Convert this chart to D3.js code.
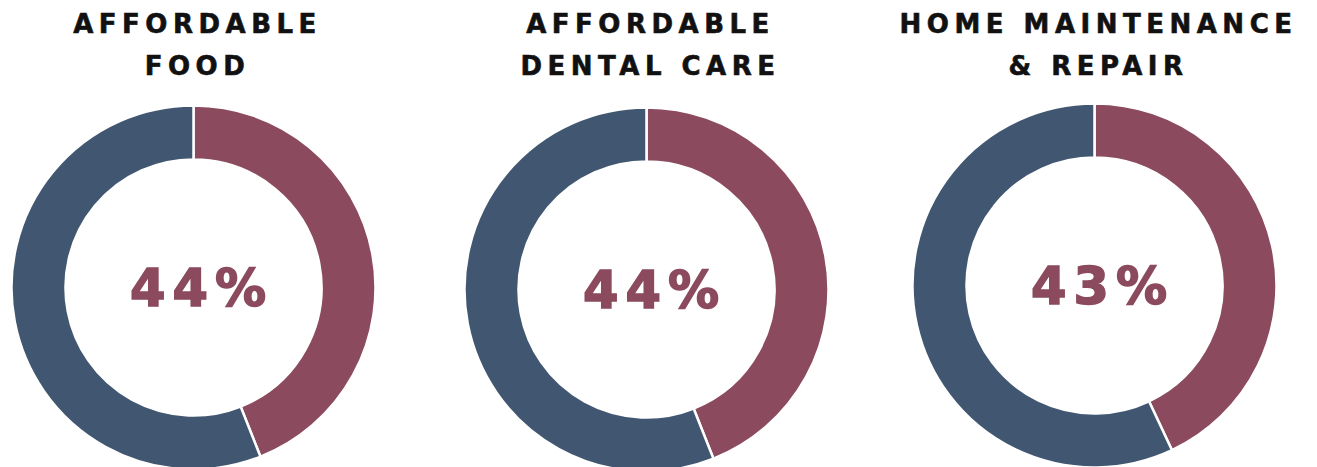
<!DOCTYPE html>
<html>
<head>
<meta charset="utf-8">
<script src="https://cdn.jsdelivr.net/npm/d3@7"></script>
<style>
  html, body { margin: 0; padding: 0; background: #ffffff; }
  svg { display: block; }
</style>
</head>
<body>
<svg id="chart" width="1317" height="467"></svg>
<script>
// Share of respondents naming each need
const titles = [
  ["AFFORDABLE", "FOOD"],
  ["AFFORDABLE", "DENTAL CARE"],
  ["HOME MAINTENANCE", "& REPAIR"]
];
const percents = [44, 44, 43];
const centersX = [193.5, 646.5, 1094.5];
const centersY = [287.5, 289.5, 285.5];

const colors = { share: "#8b4a5d", rest: "#415771" };

const svg = d3.select("#chart");
const outerR = 182;
const innerR = 128;

const pie = d3.pie().sort(null).value(d => d.value);
const arc = d3.arc().innerRadius(innerR).outerRadius(outerR);

percents.forEach((p, i) => {
  const g = svg.append("g")
    .attr("transform", `translate(${centersX[i]},${centersY[i]})`);

  const slices = [
    { key: "share", value: p },
    { key: "rest", value: 100 - p }
  ];

  g.selectAll("path")
    .data(pie(slices))
    .join("path")
    .attr("d", arc)
    .attr("fill", d => colors[d.data.key])
    .attr("stroke", "#ffffff")
    .attr("stroke-width", 2.5);

  // Centre figure, heavy and widely tracked
  g.append("text")
    .attr("text-anchor", "middle")
    .attr("x", 8)
    .attr("y", 18)
    .attr("font-family", "'DejaVu Sans', sans-serif")
    .attr("font-weight", "bold")
    .attr("font-size", 51)
    .attr("letter-spacing", "7px")
    .attr("fill", colors.share)
    .attr("stroke", colors.share)
    .attr("stroke-width", 1.6)
    .text(p + "%");

  // Two-line heading above each ring
  const t = svg.append("text")
    .attr("text-anchor", "middle")
    .attr("font-family", "'DejaVu Sans', sans-serif")
    .attr("font-weight", "bold")
    .attr("font-size", 26)
    .attr("letter-spacing", "5.5px")
    .attr("fill", "#111111")
    .attr("stroke", "#111111")
    .attr("stroke-width", 0.6);
  titles[i].forEach((line, j) => {
    t.append("tspan")
      .attr("x", centersX[i] + 4)
      .attr("y", 33 + j * 42)
      .text(line);
  });
});
</script>
</body>
</html>
